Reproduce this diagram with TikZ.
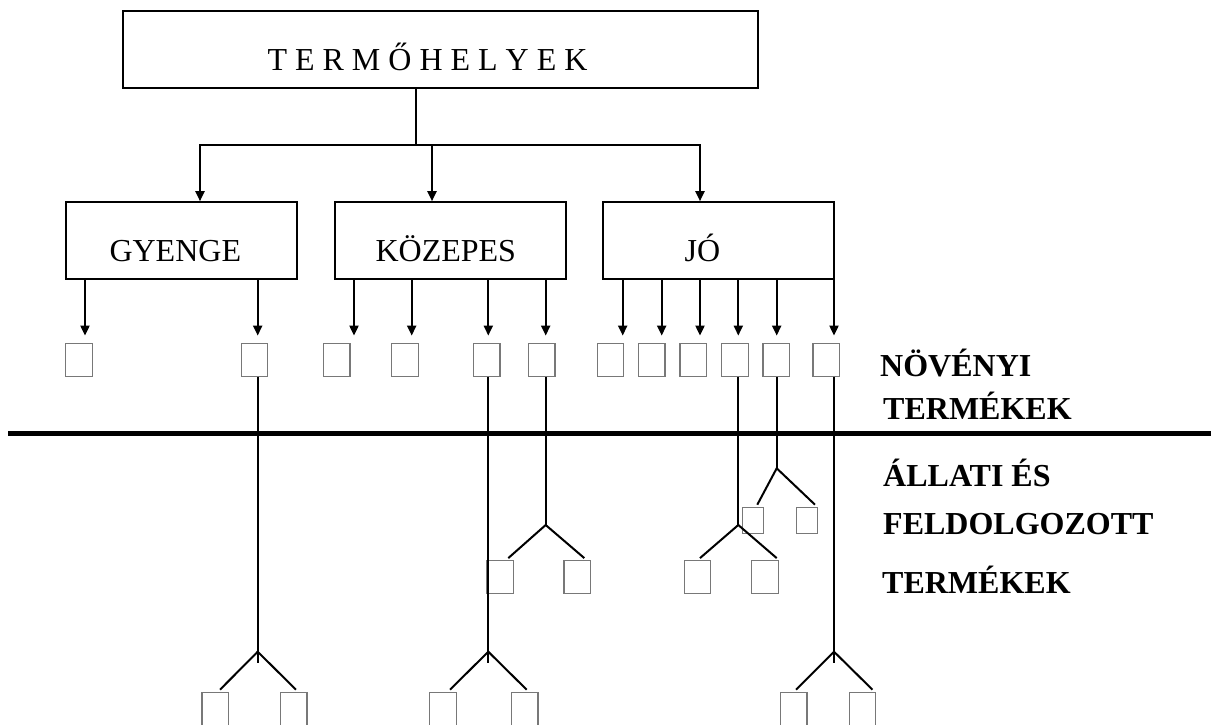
\documentclass[tikz,border=0pt]{standalone}
\usepackage{fontspec}
\setmainfont{Liberation Serif}
\usepackage{tikz}
\usetikzlibrary{arrows.meta,positioning}
\usepackage{xcolor}
\definecolor{boxgray}{RGB}{120,120,120}

\tikzset{
  bigbox/.style={draw,line width=2pt,minimum height=77pt,inner sep=0pt},
  itembox/.style={draw=boxgray,line width=1.2pt,minimum width=26.5pt,minimum height=33pt,inner sep=0pt},
  smallbox/.style={itembox,minimum width=20.5pt,minimum height=26pt},
  conn/.style={line width=2pt},
  arr/.style={conn,-{Triangle[length=10pt,width=9pt]}},
  lbl/.style={anchor=base,inner sep=0pt,font=\fontsize{32}{38}\selectfont},
  side/.style={lbl,anchor=base west,font=\fontsize{32}{38}\selectfont\bfseries}
}

\begin{document}
\begin{tikzpicture}[x=1pt,y=-1pt]
    \useasboundingbox (0,0) rectangle (1211,725);
    % site classes
    \node[bigbox,minimum width=635pt] (main) at (440.5,49.5) {};
    \node[bigbox,minimum width=231pt] (gyenge) at (181.2,240.7) {};
    \node[bigbox,minimum width=231pt] (kozepes) at (450,240.7) {};
    \node[bigbox,minimum width=231pt] (jo) at (718.7,240.7) {};
    \node[lbl] (maintxt) at (427.5,70.7) {T E R M Ő H E L Y E K};
    \node[lbl] (gyengetxt) at (175.3,261.7) {GYENGE};
    \node[lbl] (kozepestxt) at (445.8,261.7) {KÖZEPES};
    \node[lbl] (jotxt) at (702.5,261.7) {JÓ};
    % branching from the top box
    \coordinate (bus) at (416,145);
    \draw[conn] (main.south -| bus) -- (bus);
    \draw[arr] (bus) -| (gyenge.north -| 200,0);
    \draw[arr] (bus) -| (jo.north -| 700,0);
    \draw[arr] (bus -| 432,0) -- (kozepes.north -| 432,0);
    % plant products
    \foreach \n/\x in {p1/79,p2/254.5,p3/336.7,p4/405,p5/486.7,p6/541.7,p7/610.5,p8/651.7,p9/693.3,p10/735,p11/776.3,p12/826.3}
        \node[itembox] (\n) at (\x,359.7) {};
    \foreach \b/\n/\x in {gyenge/p1/85,gyenge/p2/257.7,kozepes/p3/354,kozepes/p4/411.7,kozepes/p5/488.3,kozepes/p6/545.7,jo/p7/622.7,jo/p8/661.7,jo/p9/700,jo/p10/738.3,jo/p11/776.7,jo/p12/834}
        \draw[arr,shorten >=7pt] (\b.south -| \x,0) -- (\n.north -| \x,0);
    % dividing line
    \draw[line width=5.5pt] (8.3,433.3) -- (1211,433.3);
    % animal and processed products
    \foreach \n/\x/\y in {a1/215.3/708.8,a2/293.7/708.8,a3/443/708.8,a4/524.7/708.8,a5/500/577.2,a6/577.3/577.2,a7/697.5/577.2,a8/765/577.2,a11/793.7/708.8,a12/862.5/708.8}
        \node[itembox] (\n) at (\x,\y) {};
    \node[smallbox] (a9) at (753,520.3) {};
    \node[smallbox] (a10) at (807,520.3) {};
    \coordinate (f1) at (257.7,651.7);
    \coordinate (f2) at (488.3,651.7);
    \coordinate (f3) at (545.7,525);
    \coordinate (f4) at (738.3,525);
    \coordinate (f5) at (776.7,468.3);
    \coordinate (f6) at (834,651.7);
    \foreach \n/\f in {p2/f1,p5/f2,p12/f6}
        \draw[conn] (\n.south -| \f) -- ([yshift=-11pt]\f);
    \foreach \n/\f in {p6/f3,p10/f4,p11/f5}
        \draw[conn] (\n.south -| \f) -- (\f);
    \foreach \f/\l/\ls/\r/\rs in {f1/a1/4.7/a2/2.3,f2/a3/7/a4/2,f6/a11/2.3/a12/10,f3/a5/8.3/a6/7,f4/a7/2.5/a8/11.7,f5/a9/4.3/a10/8}
        \draw[conn] ([xshift=\ls pt,yshift=2pt]\l.north) -- (\f) -- ([xshift=\rs pt,yshift=2pt]\r.north);
    % side labels
    \node[side] (noveny1) at (880,376.7) {NÖVÉNYI};
    \node[side] (noveny2) at (883,419.5) {TERMÉKEK};
    \node[side] (allat1) at (883,486.7) {ÁLLATI ÉS};
    \node[side] (allat2) at (883,534) {FELDOLGOZOTT};
    \node[side] (allat3) at (882,593.3) {TERMÉKEK};
\end{tikzpicture}
\end{document}
